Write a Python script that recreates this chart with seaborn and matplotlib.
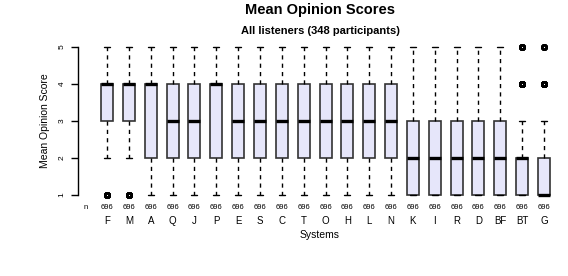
import numpy as np
import pandas as pd
import matplotlib
matplotlib.use('Agg')
import matplotlib.pyplot as plt
import matplotlib.transforms as mtransforms
import seaborn as sns

# systems in display order
systems = ['F', 'M', 'A', 'Q', 'J', 'P', 'E', 'S', 'C', 'T', 'O', 'H', 'L', 'N',
           'K', 'I', 'R', 'D', 'BF', 'BT', 'G']

# number of ratings given to each score (1..5) per system, 696 ratings each
counts_1 = [20, 22, 60, 70, 72, 55, 68, 70, 72, 74, 75, 76, 78, 80,
            200, 205, 210, 215, 220, 250, 400]
counts_2 = [80, 85, 150, 130, 132, 140, 135, 134, 133, 132, 131, 130, 128, 126,
            200, 198, 196, 194, 192, 300, 180]
counts_3 = [200, 205, 120, 200, 200, 125, 205, 206, 207, 208, 209, 210, 211, 212,
            150, 150, 150, 150, 150, 100, 80]
counts_4 = [280, 275, 230, 200, 198, 240, 196, 194, 192, 190, 188, 186, 184, 182,
            100, 98, 96, 94, 92, 30, 25]
counts_5 = [116, 109, 136, 96, 94, 136, 92, 92, 92, 92, 93, 94, 95, 96,
            46, 45, 44, 43, 42, 16, 11]
n_ratings = 696

rows = []
for i, s in enumerate(systems):
    cnt = [counts_1[i], counts_2[i], counts_3[i], counts_4[i], counts_5[i]]
    scores = np.repeat([1, 2, 3, 4, 5], cnt)
    rows.append(pd.DataFrame({'system': s, 'score': scores}))
df = pd.concat(rows, ignore_index=True)

sns.set_theme(style='white')
plt.rcParams['font.family'] = ['Liberation Sans', 'DejaVu Sans']
plt.rcParams['text.color'] = 'black'
plt.rcParams['axes.labelcolor'] = 'black'
plt.rcParams['xtick.color'] = 'black'
plt.rcParams['ytick.color'] = 'black'

fig = plt.figure(figsize=(5.68, 2.76), dpi=100)
ax = fig.add_axes([0.137, 0.272, 0.853, 0.579])

sns.boxplot(data=df, x='system', y='score', order=systems, ax=ax,
            color='#e6e6fa', saturation=1, width=0.55, whis=1.5,
            linecolor='black', linewidth=1.0,
            boxprops=dict(edgecolor='#333333', linewidth=1.2),
            medianprops=dict(color='black', linewidth=2.4),
            whiskerprops=dict(color='black', linestyle=(0, (3, 3)), linewidth=1.0),
            capprops=dict(color='black', linewidth=1.0),
            flierprops=dict(marker='o', markerfacecolor='none', markeredgecolor='black',
                            markeredgewidth=1.4, markersize=3.3))

ax.set_xlim(-1.34, len(systems) - 1 + 0.84)
ax.set_ylim(0.84, 5.16)

for side in ['top', 'right', 'bottom']:
    ax.spines[side].set_visible(False)
ax.spines['left'].set_bounds(1, 5)
ax.spines['left'].set_color('black')
ax.spines['left'].set_linewidth(1.0)

ax.set_yticks([1, 2, 3, 4, 5])
ax.set_yticklabels(['1', '2', '3', '4', '5'], rotation=90, va='center', fontsize=6)
ax.tick_params(axis='y', direction='out', length=5, width=1.0, color='black', pad=4, left=True)

ax.set_xticks(range(len(systems)))
ax.set_xticklabels(systems, fontsize=7)
ax.tick_params(axis='x', length=0, pad=11)

# counts row under the boxes
trans = mtransforms.blended_transform_factory(ax.transData, ax.transAxes)
ax.text(-1, -0.02, 'n', transform=trans, ha='center', va='top', fontsize=5.5)
for i in range(len(systems)):
    ax.text(i, -0.02, str(n_ratings), transform=trans, ha='center', va='top', fontsize=5.5)

ax.set_xlabel('Systems', fontsize=7.5, labelpad=3)
ax.set_ylabel('Mean Opinion Score', fontsize=7.5, labelpad=6)

fig.text(0.564, 0.965, 'Mean Opinion Scores', ha='center', va='center',
         fontsize=10.5, fontweight='bold')
fig.text(0.564, 0.888, 'All listeners (348 participants)', ha='center', va='center',
         fontsize=8, fontweight='bold')

fig.savefig('out.png', dpi=100)
